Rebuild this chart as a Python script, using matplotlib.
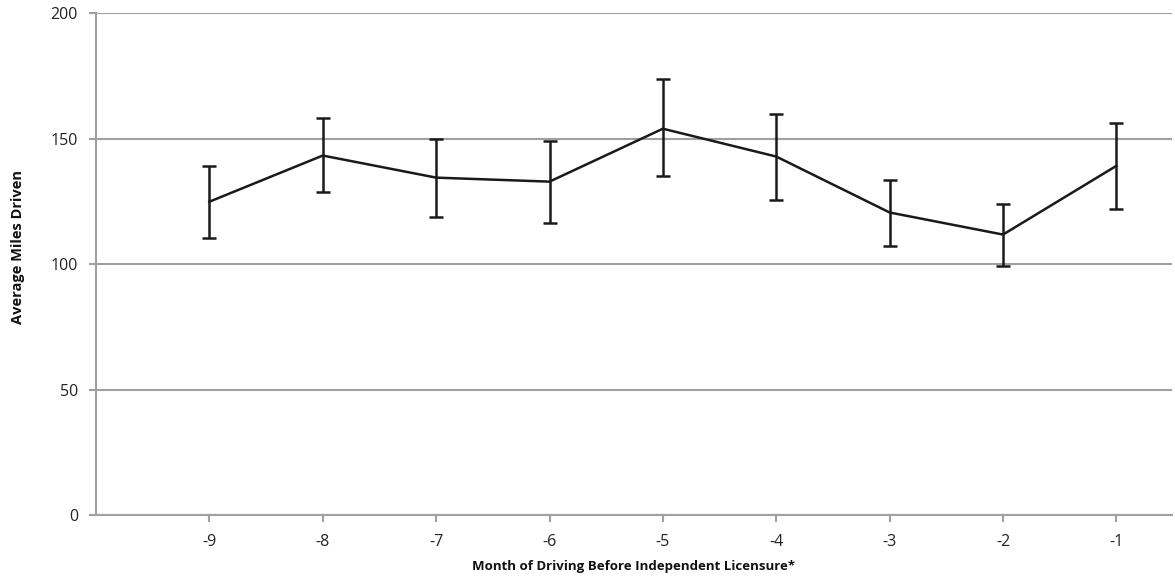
import matplotlib.pyplot as plt

plt.rcParams['font.family'] = ['Open Sans', 'DejaVu Sans']
plt.rcParams['axes.unicode_minus'] = False

months = [-9, -8, -7, -6, -5, -4, -3, -2, -1]
miles = [124.9, 143.3, 134.5, 132.9, 154.0, 142.9, 120.6, 111.8, 139.2]
upper = [139.3, 158.1, 150.0, 149.1, 173.7, 159.8, 133.5, 123.8, 156.3]
lower = [110.6, 128.7, 118.9, 116.4, 135.3, 125.4, 107.4, 99.1, 122.1]

err_lo = [m - l for m, l in zip(miles, lower)]
err_hi = [u - m for m, u in zip(miles, upper)]

fig = plt.figure(figsize=(11.75, 5.79), dpi=100)
ax = fig.add_axes([0.0817, 0.1105, 0.9157, 0.8665])

gray = '#a0a0a0'
ax.errorbar(months, miles, yerr=[err_lo, err_hi], color='#1a1a1a', lw=1.8,
            elinewidth=1.8, capsize=5, capthick=1.8, zorder=3)

ax.set_xlim(-10, -0.51)
ax.set_ylim(0, 200)
ax.set_xticks(months)
ax.set_yticks([0, 50, 100, 150, 200])
ax.grid(axis='y', color=gray, lw=1.5)
ax.set_axisbelow(True)

for s in ['top', 'right']:
    ax.spines[s].set_visible(False)
for s in ['left', 'bottom']:
    ax.spines[s].set_color(gray)
    ax.spines[s].set_linewidth(1.5)

ax.tick_params(axis='both', colors=gray, labelcolor='#222222', labelsize=11.5,
               length=5, width=1.5)
ax.tick_params(axis='x', pad=9)
ax.tick_params(axis='y', pad=8)

ax.set_xlabel('Month of Driving Before Independent Licensure*', fontsize=9.5,
              fontweight='bold', color='#111111', labelpad=7)
ax.set_ylabel('Average Miles Driven', fontsize=10.5, fontweight='bold',
              color='#111111')
ax.yaxis.set_label_coords(-0.066, 0.534)

fig.savefig('out.png', dpi=100)
